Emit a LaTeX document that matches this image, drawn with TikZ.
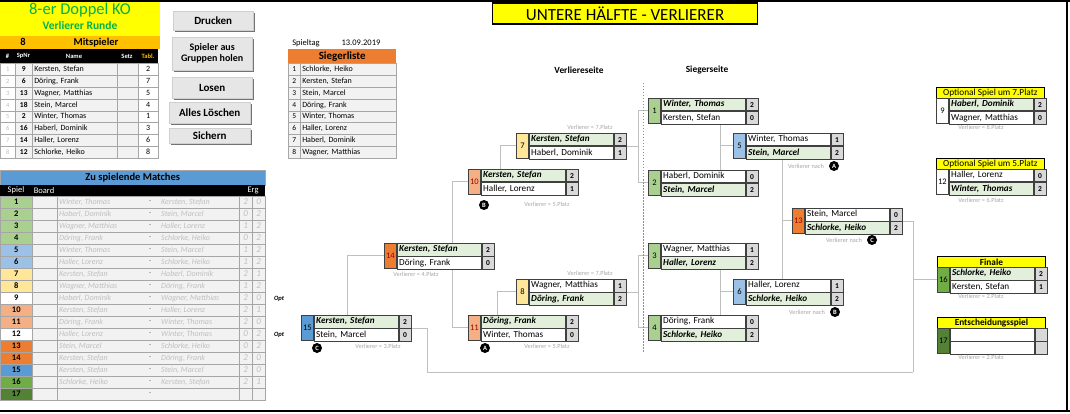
\documentclass[tikz,border=0pt]{standalone}
\usepackage{fontspec}
\setmainfont{Carlito}
\usetikzlibrary{shadows,calc}
\pgfdeclarelayer{bg}
\pgfsetlayers{bg,main}
\definecolor{winbg}{HTML}{E2EFDA}
\definecolor{scorebg}{HTML}{D9D9D9}
\definecolor{boxline}{HTML}{404040}
\definecolor{conncol}{HTML}{BFBFBF}
\definecolor{labgray}{HTML}{A6A6A6}
\definecolor{gridgray}{HTML}{A6A6A6}
\definecolor{cellbg}{HTML}{F2F2F2}
\definecolor{lgreen}{HTML}{A9D08E}
\definecolor{lblue}{HTML}{9BC2E6}
\definecolor{lyellow}{HTML}{FFE699}
\definecolor{salmon}{HTML}{F4B084}
\definecolor{xlorange}{HTML}{ED7D31}
\definecolor{xlblue}{HTML}{5B9BD5}
\definecolor{xlgreen}{HTML}{70AD47}
\definecolor{dkgreen}{HTML}{548235}
\definecolor{xlyellow}{HTML}{FFFF00}
\definecolor{xlgold}{HTML}{FFC000}
\definecolor{titlegreen}{HTML}{00B050}
\definecolor{btnfill}{HTML}{E7E6E6}
\definecolor{btnline}{HTML}{D0CECE}
\definecolor{dashblue}{HTML}{5B9BD5}
\definecolor{mtext}{HTML}{BFBFBF}
\definecolor{numred}{HTML}{9C0006}
\newcommand\fsz[1]{\fontsize{#1}{#1}\selectfont}
% bracket match box
\newcommand\spielbox[9]{%
  \ifnum#9=1
    \def\ca{winbg}\def\cb{white}\def\fa{\bfseries\itshape}\def\fb{}%
  \else\ifnum#9=2
    \def\ca{white}\def\cb{winbg}\def\fa{}\def\fb{\bfseries\itshape}%
  \else
    \def\ca{white}\def\cb{white}\def\fa{}\def\fb{}%
  \fi\fi
  \node[numcell,fill=#4] (n#1) at (#2,#3) {#1};
  \node[namecell,fill=\ca,font=\fsz{9.2}\fa] (a#1) at (n#1.north east) {#5};
  \node[namecell,fill=\cb,font=\fsz{9.2}\fb] (b#1) at (a#1.south west) {#7};
  \node[scorecell] (sa#1) at (a#1.north east) {#6};
  \node[scorecell] (sb#1) at (b#1.north east) {#8};
}
% player list row
\newcommand\prow[4]{%
  \pgfmathsetmacro\ry{63.5+11.8*(#1-1)}
  \node[gcell,minimum height=11.8pt,minimum width=15pt,fill=white,text=mtext,font=\fsz{6.5}] (pa#1) at (0,\ry) {#1};
  \node[gcell,minimum height=11.8pt,minimum width=17pt,fill=cellbg,font=\fsz{7.5}\bfseries] (pb#1) at (15,\ry) {#2};
  \node[gcell,minimum height=11.8pt,text width=81pt,inner xsep=2pt,align=left,fill=cellbg,font=\fsz{8}] (pc#1) at (32,\ry) {#3};
  \node[gcell,minimum height=11.8pt,minimum width=21pt,fill=cellbg] (pd#1) at (117,\ry) {};
  \node[gcell,minimum height=11.8pt,minimum width=20pt,fill=white,font=\fsz{8}] (pe#1) at (138,\ry) {#4};
}
% winners list row
\newcommand\srow[2]{%
  \pgfmathsetmacro\ry{63.5+11.8*(#1-1)}
  \node[gcell,minimum height=11.8pt,minimum width=12pt,fill=cellbg,font=\fsz{7.5}] (sn#1) at (288,\ry) {#1};
  \node[gcell,minimum height=11.8pt,text width=92pt,inner xsep=2pt,align=left,fill=cellbg,font=\fsz{8}] (sl#1) at (300,\ry) {#2};
}
% matches table row
\newcommand\mrow[6]{%
  \pgfmathsetmacro\ry{196+12*(#1-1)}
  \pgfmathsetmacro\rc{\ry+6}
  \node[gcell,minimum height=12pt,minimum width=32pt,fill=#2,font=\fsz{8.5}\bfseries] (ms#1) at (0,\ry) {#1};
  \node[gcell,minimum height=12pt,minimum width=25pt,fill=cellbg] (mb#1) at (32,\ry) {};
  \node[gcell,minimum height=12pt,minimum width=182pt,fill=cellbg] (mn#1) at (57,\ry) {};
  \node[gcell,minimum height=12pt,minimum width=13pt,fill=cellbg,text=mtext,font=\fsz{9}\itshape] (me#1) at (239,\ry) {#5};
  \node[gcell,minimum height=12pt,minimum width=13pt,fill=cellbg,text=mtext,font=\fsz{9}\itshape] (mf#1) at (252,\ry) {#6};
  \node[mtxt] (mx#1) at (59,\rc) {#3};
  \node[font=\fsz{8},text=gray,inner sep=0pt] (md#1) at (150,\rc) {-};
  \node[mtxt] (my#1) at (161,\rc) {#4};
}
\begin{document}
\begin{tikzpicture}[x=1pt,y=-1pt,
  numcell/.style={draw=boxline,line width=0.8pt,minimum width=12pt,minimum height=25pt,inner sep=0pt,anchor=north west,font=\fsz{8.5}},
  namecell/.style={draw=boxline,line width=0.8pt,text width=80pt,inner xsep=2pt,inner ysep=0pt,minimum height=12.5pt,align=left,text height=6.4pt,text depth=1.8pt,anchor=north west},
  scorecell/.style={draw=boxline,line width=0.8pt,fill=scorebg,minimum width=12pt,minimum height=12.5pt,inner sep=0pt,anchor=north west,font=\fsz{7.5}\bfseries},
  conn/.style={draw=conncol,line width=0.9pt},
  vlabel/.style={font=\fsz{6.3},text=labgray,inner sep=0pt},
  badge/.style={circle,fill=black,text=white,inner sep=0pt,minimum size=10pt,font=\fsz{6.5}\bfseries},
  gcell/.style={draw=gridgray,line width=0.5pt,inner sep=0pt,anchor=north west,text height=5.8pt,text depth=1.7pt},
  mtxt/.style={anchor=west,inner sep=0pt,text=mtext,font=\fsz{8}\itshape},
  htext/.style={text=white,inner sep=0pt,font=\fsz{6.5}\bfseries},
  btn/.style={anchor=north west,fill=btnfill,draw=btnline,line width=0.4pt,inner sep=0pt,align=center,font=\fsz{11}\bfseries,
    drop shadow={shadow xshift=1.6pt,shadow yshift=-1.6pt,fill=black!55,opacity=1}},
  hdr/.style={anchor=north west,fill=xlyellow,draw=black,line width=0.8pt,minimum width=108pt,minimum height=11pt,inner sep=0pt,font=\fsz{9.3}}
]
\useasboundingbox (0,0) rectangle (1070,414);
% frame
\draw[line width=2pt] (0,1) -- (1070,1);
\draw[line width=2pt] (0,410.5) -- (1070,410.5);
\draw[line width=1.5pt] (1067,0) -- (1067,411);

% ===== title block =====
\node[fill=xlyellow,minimum width=160pt,minimum height=34pt,anchor=north west,inner sep=0pt] (tblock) at (0,2) {};
\node[text=titlegreen,font=\fsz{16.5},inner sep=0pt] (t1) at (80,10.5) {8-er Doppel KO};
\node[text=titlegreen,font=\fsz{11.5}\bfseries,inner sep=0pt] (t2) at (80,25.5) {Verlierer Runde};
\node[fill=xlgold,minimum width=160pt,minimum height=13.5pt,anchor=north west,inner sep=0pt] (obar) at (0,35.5) {};
\node[font=\fsz{10.5}\bfseries,inner sep=0pt] (onum) at (23,42.3) {8};
\node[font=\fsz{10.5}\bfseries,inner sep=0pt] (otxt) at (96,42.3) {Mitspieler};
\node[fill=black,minimum width=158pt,minimum height=14.5pt,anchor=north west,inner sep=0pt] (phdr) at (0,49) {};
\node[htext] (ph1) at (7.5,56.3) {\#};
\node[htext] (ph2) at (23.5,56.3) {SpNr};
\node[htext] (ph3) at (74,56.3) {Name};
\node[htext] (ph4) at (127,56.3) {Setz};
\node[htext,text=xlgold] (ph5) at (148,56.3) {Tabl.};
\prow{1}{9}{Kersten, Stefan}{2}
\prow{2}{6}{Döring, Frank}{7}
\prow{3}{13}{Wagner, Matthias}{5}
\prow{4}{18}{Stein, Marcel}{4}
\prow{5}{2}{Winter, Thomas}{1}
\prow{6}{16}{Haberl, Dominik}{3}
\prow{7}{14}{Haller, Lorenz}{6}
\prow{8}{12}{Schlorke, Heiko}{8}

% ===== buttons =====
\node[btn,minimum width=80pt,minimum height=19pt] (bt1) at (173,11) {Drucken};
\node[btn,minimum width=80pt,minimum height=33pt,font=\fsz{10}\bfseries] (bt2) at (172,37) {Spieler aus\\[1pt]Gruppen holen};
\node[btn,minimum width=80pt,minimum height=21pt] (bt3) at (172,77) {Losen};
\node[btn,minimum width=81pt,minimum height=21pt] (bt4) at (169,102) {Alles Löschen};
\node[btn,minimum width=81pt,minimum height=15pt] (bt5) at (169,128) {Sichern};

% ===== Siegerliste =====
\node[font=\fsz{8.5},inner sep=0pt] (stag) at (306,43) {Spieltag};
\node[font=\fsz{8.5},inner sep=0pt] (sdat) at (361,43) {13.09.2019};
\node[fill=xlorange,anchor=north west,minimum width=108pt,minimum height=14.5pt,inner sep=0pt,font=\fsz{11}\bfseries] (slh) at (288,49) {Siegerliste};
\srow{1}{Schlorke, Heiko}
\srow{2}{Kersten, Stefan}
\srow{3}{Stein, Marcel}
\srow{4}{Döring, Frank}
\srow{5}{Winter, Thomas}
\srow{6}{Haller, Lorenz}
\srow{7}{Haberl, Dominik}
\srow{8}{Wagner, Matthias}

% ===== matches table =====
\node[fill=xlblue,draw=gridgray,line width=0.4pt,anchor=north west,minimum width=265pt,minimum height=15pt,inner sep=0pt,font=\fsz{10.5}\bfseries] (mhead) at (0,170) {Zu spielende Matches};
\node[fill=black,anchor=north west,minimum width=265pt,minimum height=11pt,inner sep=0pt] (mblack) at (0,185) {};
\node[text=white,font=\fsz{8.5},inner sep=0pt] (mh1) at (16,190.5) {Spiel};
\node[text=white,font=\fsz{8.5},inner sep=0pt] (mh2) at (44,190.5) {Board};
\node[text=white,font=\fsz{8.5},inner sep=0pt] (mh3) at (253,190.5) {Erg};
\mrow{1}{lgreen}{Winter, Thomas}{Kersten, Stefan}{2}{0}
\mrow{2}{lgreen}{Haberl, Dominik}{Stein, Marcel}{0}{2}
\mrow{3}{lgreen}{Wagner, Matthias}{Haller, Lorenz}{1}{2}
\mrow{4}{lgreen}{Döring, Frank}{Schlorke, Heiko}{0}{2}
\mrow{5}{lblue}{Winter, Thomas}{Stein, Marcel}{1}{2}
\mrow{6}{lblue}{Haller, Lorenz}{Schlorke, Heiko}{1}{2}
\mrow{7}{lyellow}{Kersten, Stefan}{Haberl, Dominik}{2}{1}
\mrow{8}{lyellow}{Wagner, Matthias}{Döring, Frank}{1}{2}
\mrow{9}{white}{Haberl, Dominik}{Wagner, Matthias}{2}{0}
\mrow{10}{salmon}{Kersten, Stefan}{Haller, Lorenz}{2}{1}
\mrow{11}{salmon}{Döring, Frank}{Winter, Thomas}{2}{0}
\mrow{12}{white}{Haller, Lorenz}{Winter, Thomas}{0}{2}
\mrow{13}{xlorange}{Stein, Marcel}{Schlorke, Heiko}{0}{2}
\mrow{14}{xlorange}{Kersten, Stefan}{Döring, Frank}{2}{0}
\mrow{15}{xlblue}{Kersten, Stefan}{Stein, Marcel}{2}{0}
\mrow{16}{xlgreen}{Schlorke, Heiko}{Kersten, Stefan}{2}{1}
\mrow{17}{dkgreen}{}{}{}{}
\node[font=\fsz{6.5}\bfseries\itshape,inner sep=0pt] (opt9) at (279,298.5) {Opt};
\node[font=\fsz{6.5}\bfseries\itshape,inner sep=0pt] (opt12) at (279,334.5) {Opt};

% ===== bracket title =====
\node[fill=xlyellow,draw=black,line width=1.2pt,anchor=north west,minimum width=265pt,minimum height=21pt,inner sep=0pt,font=\fsz{17}] (title) at (492,2.5) {UNTERE HÄLFTE - VERLIERER};
\node[font=\fsz{9.4}\bfseries,inner sep=0pt] (lside) at (579,70) {Verliereseite};
\node[font=\fsz{9.4}\bfseries,inner sep=0pt] (wside) at (707,70) {Siegerseite};
\draw[dashblue,line width=0.6pt,dash pattern=on 1.5pt off 1.5pt] (643,83) -- (643,353);

% ===== match boxes =====
\spielbox{1}{648}{98}{lgreen}{Winter, Thomas}{2}{Kersten, Stefan}{0}{1}
\spielbox{2}{648}{170}{lgreen}{Haberl, Dominik}{0}{Stein, Marcel}{2}{2}
\spielbox{3}{648}{243}{lgreen}{Wagner, Matthias}{1}{Haller, Lorenz}{2}{2}
\spielbox{4}{648}{315}{lgreen}{Döring, Frank}{0}{Schlorke, Heiko}{2}{2}
\spielbox{5}{733}{133}{lblue}{Winter, Thomas}{1}{Stein, Marcel}{2}{2}
\spielbox{6}{733}{279}{lblue}{Haller, Lorenz}{1}{Schlorke, Heiko}{2}{2}
\spielbox{13}{792}{208}{xlorange,text=numred}{Stein, Marcel}{0}{Schlorke, Heiko}{2}{2}
\spielbox{7}{516}{133}{lyellow}{Kersten, Stefan}{2}{Haberl, Dominik}{1}{1}
\spielbox{8}{516}{279}{lyellow}{Wagner, Matthias}{1}{Döring, Frank}{2}{2}
\spielbox{10}{468}{169}{salmon,text=numred}{Kersten, Stefan}{2}{Haller, Lorenz}{1}{1}
\spielbox{11}{468}{315}{salmon,text=numred}{Döring, Frank}{2}{Winter, Thomas}{0}{1}
\spielbox{14}{384}{243}{xlorange,text=numred}{Kersten, Stefan}{2}{Döring, Frank}{0}{1}
\spielbox{15}{301}{315}{xlblue}{Kersten, Stefan}{2}{Stein, Marcel}{0}{1}
\node[hdr] (h9) at (936,87) {Optional Spiel um 7.Platz};
\spielbox{9}{936}{98}{white}{Haberl, Dominik}{2}{Wagner, Matthias}{0}{1}
\node[hdr] (h12) at (936,158) {Optional Spiel um 5.Platz};
\spielbox{12}{936}{169}{white}{Haller, Lorenz}{0}{Winter, Thomas}{2}{2}
\node[hdr,font=\fsz{9.3}\bfseries] (h16) at (937,256) {Finale};
\spielbox{16}{937}{267}{xlgreen}{Schlorke, Heiko}{2}{Kersten, Stefan}{1}{1}
\node[hdr,font=\fsz{9.3}\bfseries] (h17) at (937,317) {Entscheidungsspiel};
\spielbox{17}{937}{328}{dkgreen}{}{}{}{}{0}

% ===== labels =====
\node[vlabel] (l7) at (590,127) {Verlierer = 7.Platz};
\node[vlabel] (l8) at (590,273) {Verlierer = 7.Platz};
\node[vlabel] (l10) at (547,204) {Verlierer = 5.Platz};
\node[vlabel] (l11) at (547,346) {Verlierer = 5.Platz};
\node[vlabel] (l14) at (416,274) {Verlierer = 4.Platz};
\node[vlabel] (l15) at (378,346) {Verlierer = 3.Platz};
\node[vlabel] (l5) at (806,166) {Verlierer nach};
\node[vlabel] (l13) at (844,240) {Verlierer nach};
\node[vlabel] (l6) at (807,312) {Verlierer nach};
\node[vlabel] (l9) at (981,127) {Verlierer = 8.Platz};
\node[vlabel] (l12) at (981,200) {Verlierer = 6.Platz};
\node[vlabel] (l16) at (981,296) {Verlierer = 2.Platz};
\node[vlabel] (l17) at (981,357) {Verlierer = 2.Platz};
\node[badge] (bdA1) at (834,166) {A};
\node[badge] (bdC1) at (872,240) {C};
\node[badge] (bdB1) at (835,312) {B};
\node[badge] (bdB2) at (484,205) {B};
\node[badge] (bdA2) at (485,348) {A};
\node[badge] (bdC2) at (317,348) {C};

\coordinate (fin) at (913,372);
% ===== connectors =====
\begin{pgfonlayer}{bg}
  \draw[conn] (sa7.south east) -- ++(12,0) coordinate (k7);
  \draw[conn] (n1.west) -| (k7) |- (n2.west);
  \draw[conn] (sa8.south east) -- ++(12,0) coordinate (k8);
  \draw[conn] (n3.west) -| (k8) |- (n4.west);
  \draw[conn] (n5.west) -- ++(-13,0) coordinate (k5);
  \draw[conn] (k5 |- b1.south) -- (k5 |- a2.north);
  \draw[conn] (n6.west) -- ++(-13,0) coordinate (k6);
  \draw[conn] (k6 |- b3.south) -- (k6 |- a4.north);
  \draw[conn] (n13.west) -- ++(-10,0) coordinate (k13);
  \draw[conn] (k13 |- b5.south) -- (k13 |- a6.north);
  \draw[conn] (n7.west) -- ++(-16,0) coordinate (k7b) -- (k7b |- a10.north);
  \draw[conn] (n8.west) -- ++(-19,0) coordinate (k8b) -- (k8b |- a11.north);
  \draw[conn] (n10.west) -- ++(-16,0) |- (n11.west);
  \draw[conn] (n14.west) -- ++(-37,0) coordinate (k14) -- (k14 |- a15.north);
  \draw[conn] (sa15.south east) -- ++(16,0) |- (fin);
  \draw[conn] (sa13.south east) -| (fin);
  \draw[conn] (n16.west) -- (n16.west -| fin);
\end{pgfonlayer}
\end{tikzpicture}
\end{document}
